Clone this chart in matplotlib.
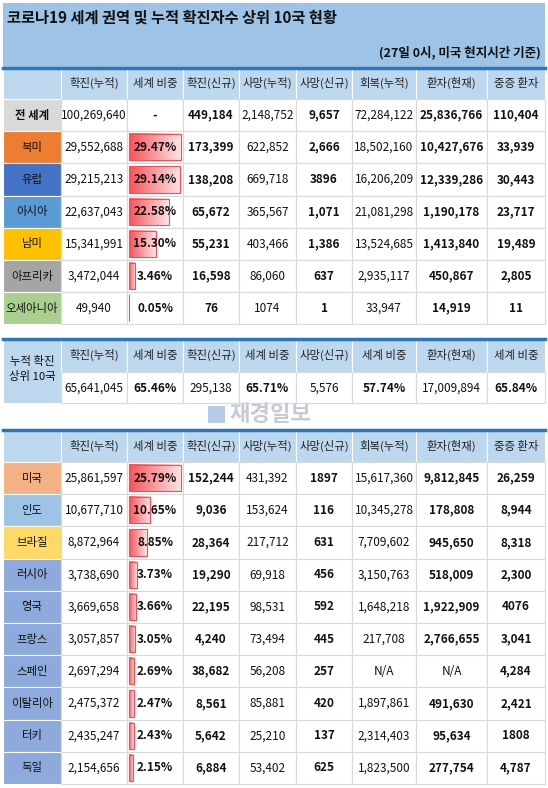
import matplotlib
matplotlib.use("Agg")
import matplotlib.pyplot as plt
import numpy as np
from matplotlib.patches import Rectangle
from matplotlib.colors import LinearSegmentedColormap

plt.rcParams['font.family'] = ['Noto Sans CJK KR', 'DejaVu Sans']

title = "코로나19 세계 권역 및 누적 확진자수 상위 10국 현황"
subtitle = "(27일 0시, 미국 현지시간 기준)"
headers = ["확진(누적)", "세계 비중", "확진(신규)", "사망(누적)", "사망(신규)", "회복(누적)", "환자(현재)", "중증 환자"]

regions = ["전 세계", "북미", "유럽", "아시아", "남미", "아프리카", "오세아니아"]
region_colors = ["#D9D9D9", "#ED7D31", "#4472C4", "#5B9BD5", "#FFC000", "#A5A5A5", "#A9D08E"]
region_confirmed = ["100,269,640", "29,552,688", "29,215,213", "22,637,043", "15,341,991", "3,472,044", "49,940"]
region_share = [None, 29.47, 29.14, 22.58, 15.30, 3.46, 0.05]
region_new = ["449,184", "173,399", "138,208", "65,672", "55,231", "16,598", "76"]
region_deaths = ["2,148,752", "622,852", "669,718", "365,567", "403,466", "86,060", "1074"]
region_new_deaths = ["9,657", "2,666", "3896", "1,071", "1,386", "637", "1"]
region_recovered = ["72,284,122", "18,502,160", "16,206,209", "21,081,298", "13,524,685", "2,935,117", "33,947"]
region_active = ["25,836,766", "10,427,676", "12,339,286", "1,190,178", "1,413,840", "450,867", "14,919"]
region_serious = ["110,404", "33,939", "30,443", "23,717", "19,489", "2,805", "11"]

top10_label = "누적 확진\n상위 10국"
top10_headers = ["확진(누적)", "세계 비중", "확진(신규)", "세계 비중", "사망(신규)", "세계 비중", "환자(현재)", "세계 비중"]
top10_values = ["65,641,045", "65.46%", "295,138", "65.71%", "5,576", "57.74%", "17,009,894", "65.84%"]
top10_bold = [False, True, False, True, False, True, False, True]

countries = ["미국", "인도", "브라질", "러시아", "영국", "프랑스", "스페인", "이탈리아", "터키", "독일"]
country_colors = ["#F4B183", "#9DC3E6", "#FFD966"] + ["#8EA9DB"] * 7
c_confirmed = ["25,861,597", "10,677,710", "8,872,964", "3,738,690", "3,669,658", "3,057,857", "2,697,294", "2,475,372", "2,435,247", "2,154,656"]
c_share = [25.79, 10.65, 8.85, 3.73, 3.66, 3.05, 2.69, 2.47, 2.43, 2.15]
c_new = ["152,244", "9,036", "28,364", "19,290", "22,195", "4,240", "38,682", "8,561", "5,642", "6,884"]
c_deaths = ["431,392", "153,624", "217,712", "69,918", "98,531", "73,494", "56,208", "85,881", "25,210", "53,402"]
c_new_deaths = ["1897", "116", "631", "456", "592", "445", "257", "420", "137", "625"]
c_recovered = ["15,617,360", "10,345,278", "7,709,602", "3,150,763", "1,648,218", "217,708", "N/A", "1,897,861", "2,314,403", "1,823,500"]
c_active = ["9,812,845", "178,808", "945,650", "518,009", "1,922,909", "2,766,655", "N/A", "491,630", "95,634", "277,754"]
c_serious = ["26,259", "8,944", "8,318", "2,300", "4076", "3,041", "4,284", "2,421", "1808", "4,787"]

W, H = 548, 788
fig = plt.figure(figsize=(W / 100, H / 100), dpi=100)
ax = fig.add_axes([0, 0, 1, 1])
ax.set_xlim(0, W)
ax.set_ylim(H, 0)
ax.axis('off')

XS = [3, 61, 127, 183, 239, 296, 352, 416, 487, 545]
HDR_BG = "#BDD7EE"
GRID = "#D9D9D9"
BLUE_LINE = "#2E75B6"
FS = 8.2
bold_cols = [False, None, True, False, True, False, True, True]
cmap = LinearSegmentedColormap.from_list("g", ["#F8535A", "#FDE3E4"])

def cell(x0, x1, y0, y1, fc, ec=GRID):
    ax.add_patch(Rectangle((x0, y0), x1 - x0, y1 - y0, facecolor=fc, edgecolor=ec, lw=0.8))

def databar(x0, x1, y0, y1, frac):
    bw = (x1 - x0 - 4) * frac
    if bw <= 0:
        return
    bx0, by0, by1 = x0 + 2, y0 + 3, y1 - 3
    grad = np.linspace(0, 1, 64)[None, :]
    ax.imshow(grad, cmap=cmap, extent=(bx0, bx0 + bw, by1, by0), aspect='auto', zorder=2)
    ax.add_patch(Rectangle((bx0, by0), bw, by1 - by0, fill=False, edgecolor="#E8535A", lw=0.8, zorder=3))

ax.add_patch(Rectangle((3, 3), 542, 64, facecolor="#9DC3E6", edgecolor="none"))
ax.text(7, 18, title, fontsize=11, fontweight='bold', va='center', ha='left', color="#111111")
ax.text(541, 52, subtitle, fontsize=9, fontweight='bold', va='center', ha='right', color="#111111")
ax.plot([3, 545], [68, 68], color=BLUE_LINE, lw=2.5)

def table(y_top, labels, colors, confirmed, share, new, deaths, nd, rec, act, ser):
    hb = y_top + 32
    cell(XS[0], XS[1], y_top, hb, HDR_BG, "white")
    for i, h in enumerate(headers):
        cell(XS[i + 1], XS[i + 2], y_top, hb, HDR_BG, "white")
        ax.text((XS[i + 1] + XS[i + 2]) / 2, (y_top + hb) / 2, h, fontsize=FS, ha='center', va='center', color="#222222")
    mx = max(s for s in share if s is not None)
    rh = 32.2
    for r, lab in enumerate(labels):
        y0 = hb + r * rh
        y1 = y0 + rh
        cell(XS[0], XS[1], y0, y1, colors[r], "white")
        ax.text((XS[0] + XS[1]) / 2, (y0 + y1) / 2, lab, fontsize=FS, ha='center', va='center',
                color="#111111", fontweight='bold' if lab == "전 세계" else 'normal')
        vals = [confirmed[r], share[r], new[r], deaths[r], nd[r], rec[r], act[r], ser[r]]
        for c, v in enumerate(vals):
            x0, x1 = XS[c + 1], XS[c + 2]
            cell(x0, x1, y0, y1, "white")
            if c == 1:
                if v is None:
                    txt = "-"
                else:
                    databar(x0, x1, y0, y1, v / mx)
                    txt = f"{v:.2f}%"
                ax.text((x0 + x1) / 2, (y0 + y1) / 2, txt, fontsize=FS + 0.3, ha='center', va='center',
                        fontweight='bold', color="#111111", zorder=4)
            else:
                bold = bold_cols[c] and v != "N/A"
                ax.text((x0 + x1) / 2, (y0 + y1) / 2, v, fontsize=FS + 0.3, ha='center', va='center',
                        fontweight='bold' if bold else 'normal', color="#111111", zorder=4)

table(67, regions, region_colors, region_confirmed, region_share, region_new, region_deaths,
      region_new_deaths, region_recovered, region_active, region_serious)

yt = 339
ax.plot([3, 545], [yt, yt], color=BLUE_LINE, lw=2.5)
cell(XS[0], XS[1], yt, 403, HDR_BG, "white")
ax.text((XS[0] + XS[1]) / 2, 369, top10_label, fontsize=FS, ha='center', va='center', color="#111111", linespacing=1.5)
for i, h in enumerate(top10_headers):
    x0, x1 = XS[i + 1], XS[i + 2]
    cell(x0, x1, yt, 372, HDR_BG, "white")
    ax.text((x0 + x1) / 2, 355, h, fontsize=FS, ha='center', va='center', color="#222222")
    cell(x0, x1, 372, 403, "white")
    ax.text((x0 + x1) / 2, 388, top10_values[i], fontsize=FS + 0.3, ha='center', va='center',
            fontweight='bold' if top10_bold[i] else 'normal', color="#111111")

ax.add_patch(Rectangle((208, 406), 17, 17, facecolor="#B4CCE6", edgecolor="none"))
ax.text(230, 414, "재경일보", fontsize=16, fontweight='bold', color="#C5CAD3", ha='left', va='center')

ax.plot([3, 545], [430, 430], color=BLUE_LINE, lw=2.5)
table(430, countries, country_colors, c_confirmed, c_share, c_new, c_deaths, c_new_deaths,
      c_recovered, c_active, c_serious)

fig.savefig("out.png", dpi=100)
